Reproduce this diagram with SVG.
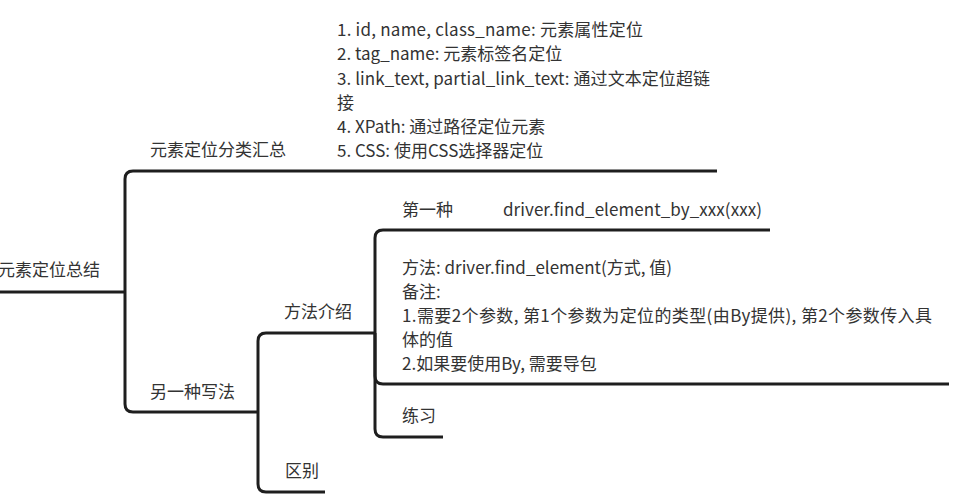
<svg xmlns="http://www.w3.org/2000/svg" width="973" height="495" viewBox="0 0 973 495">
<style>
text{font-family:"Noto Sans CJK SC","Noto Sans",sans-serif;font-size:17px;fill:#333;}
.c{fill:none;stroke:#1e1e1e;stroke-width:3;stroke-linecap:butt;stroke-linejoin:round;}
</style>
<rect width="973" height="495" fill="#fff"/>
<g id="connectors">
<path class="c" d="M0,292 H125"/>
<path class="c" d="M125,292 V179 Q125,171 133,171 H717"/>
<path class="c" d="M125,292 V404 Q125,412 133,412 H258"/>
<path class="c" d="M258,412 V341 Q258,333 266,333 H375"/>
<path class="c" d="M258,412 V484 Q258,492 266,492 H325"/>
<path class="c" d="M375,333 V238 Q375,230 383,230 H770"/>
<path class="c" d="M375,333 V376 Q375,384 383,384 H949"/>
<path class="c" d="M375,333 V429 Q375,437 383,437 H443"/>
</g>
<g id="root"><text x="-2" y="276">元素定位总结</text></g>
<g id="n-summary"><text x="150" y="156">元素定位分类汇总</text></g>
<g id="n-summary-detail">
<text x="337" y="36" textLength="306" lengthAdjust="spacing">1. id, name, class_name: 元素属性定位</text>
<text x="337" y="60">2. tag_name: 元素标签名定位</text>
<text x="337" y="85" textLength="373" lengthAdjust="spacing">3. link_text, partial_link_text: 通过文本定位超链</text>
<text x="337" y="109">接</text>
<text x="337" y="133">4. XPath: 通过路径定位元素</text>
<text x="337" y="157">5. CSS: 使用CSS选择器定位</text>
</g>
<g id="n-other"><text x="150" y="398">另一种写法</text></g>
<g id="n-method"><text x="284" y="318">方法介绍</text></g>
<g id="n-diff"><text x="285" y="477">区别</text></g>
<g id="n-first"><text x="402" y="216">第一种</text></g>
<g id="n-first-detail"><text x="503" y="216" textLength="259" lengthAdjust="spacing">driver.find_element_by_xxx(xxx)</text></g>
<g id="n-method-detail">
<text x="402" y="274">方法: driver.find_element(方式, 值)</text>
<text x="402" y="298">备注:</text>
<text x="402" y="322" textLength="530" lengthAdjust="spacing">1.需要2个参数, 第1个参数为定位的类型(由By提供), 第2个参数传入具</text>
<text x="402" y="346">体的值</text>
<text x="402" y="370">2.如果要使用By, 需要导包</text>
</g>
<g id="n-practice"><text x="402" y="422">练习</text></g>
</svg>
